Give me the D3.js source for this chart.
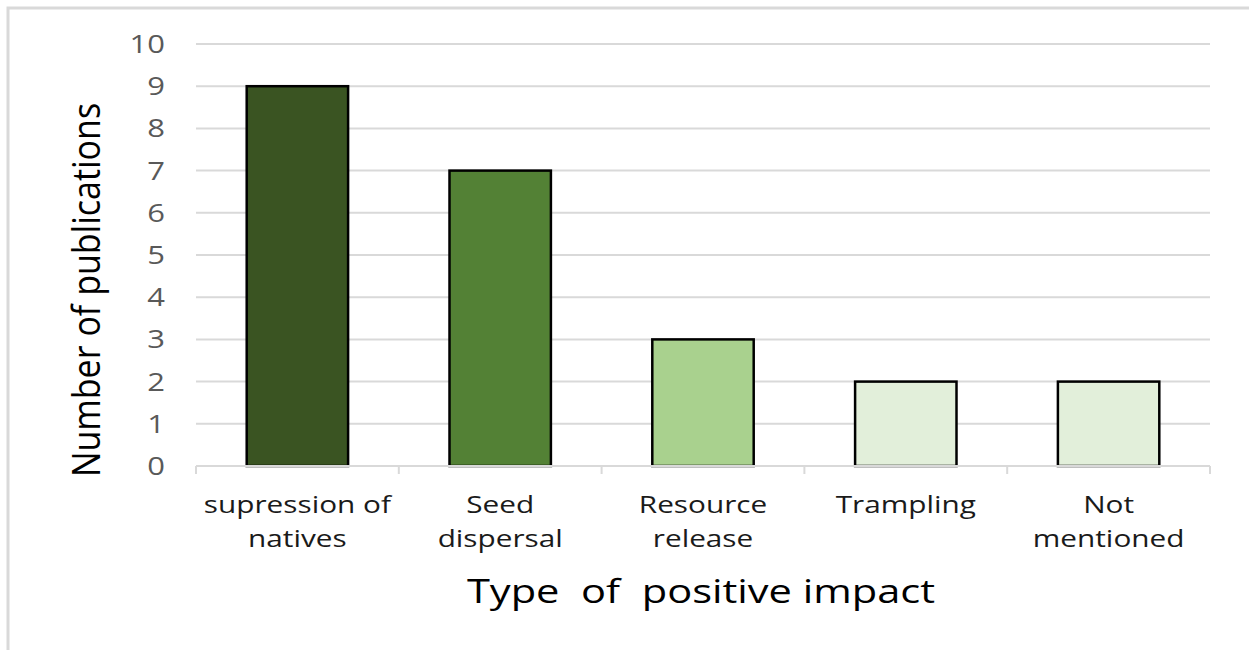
<!DOCTYPE html>
<html>
<head>
<meta charset="utf-8">
<script src="https://cdn.jsdelivr.net/npm/d3@7"></script>
<style>
  html, body { margin: 0; padding: 0; background: #fff; }
  svg { display: block; }
  text { font-family: "Open Sans", "Noto Sans", sans-serif; }
</style>
</head>
<body>
<svg id="chart" width="1249" height="650"></svg>
<script>
// Publications per type of positive impact
const categories = [
  ["supression of", "natives"],
  ["Seed", "dispersal"],
  ["Resource", "release"],
  ["Trampling"],
  ["Not", "mentioned"]
];
const values = [9, 7, 3, 2, 2];
const barColors = ["#3a5422", "#538135", "#a9d18e", "#e2efda", "#e2efda"];
const yTicks = [0, 1, 2, 3, 4, 5, 6, 7, 8, 9, 10];
const xTitle = "Type  of  positive impact";
const yTitle = "Number of publications";

const svg = d3.select("#chart");
const margin = { left: 196, right: 39, top: 44, bottom: 184 };
const W = 1249, H = 650;
const innerW = W - margin.left - margin.right;
const innerH = H - margin.top - margin.bottom;

// lettering in this figure is set wide
const WIDE = 1.24;

const keys = categories.map(c => c.join(" "));
const x = d3.scaleBand().domain(keys).range([0, innerW]).paddingInner(0.5).paddingOuter(0.25);
const y = d3.scaleLinear().domain([0, 10]).range([innerH, 0]);

// outer frame (top and left edges)
svg.append("path")
  .attr("d", "M8,650 V8 H1249")
  .attr("fill", "none")
  .attr("stroke", "#d9d9d9")
  .attr("stroke-width", 3);

const g = svg.append("g").attr("transform", `translate(${margin.left},${margin.top})`);

// horizontal gridlines
g.append("g").selectAll("line").data(yTicks.filter(t => t > 0)).join("line")
  .attr("x1", 0).attr("x2", innerW)
  .attr("y1", d => y(d)).attr("y2", d => y(d))
  .attr("stroke", "#d9d9d9").attr("stroke-width", 2);

// y tick labels
g.append("g").selectAll("text").data(yTicks).join("text")
  .attr("transform", d => `translate(-31,${y(d)}) scale(${WIDE},1)`)
  .attr("dy", "0.36em")
  .attr("text-anchor", "end")
  .attr("fill", "#595959")
  .attr("font-size", 25)
  .text(d => d);

// bars
g.append("g").selectAll("rect").data(values).join("rect")
  .attr("x", (d, i) => x(keys[i]))
  .attr("y", d => y(d))
  .attr("width", x.bandwidth())
  .attr("height", d => innerH - y(d))
  .attr("fill", (d, i) => barColors[i])
  .attr("stroke", "#000")
  .attr("stroke-width", 2.5);

// x axis line with boundary ticks
const step = x.step();
const edges = keys.map(k => x(k) - (step - x.bandwidth()) / 2).concat([innerW]);
g.append("line")
  .attr("x1", 0).attr("x2", innerW)
  .attr("y1", innerH).attr("y2", innerH)
  .attr("stroke", "#d9d9d9").attr("stroke-width", 2);
g.append("g").selectAll("line").data(edges).join("line")
  .attr("x1", d => d).attr("x2", d => d)
  .attr("y1", innerH).attr("y2", innerH + 8)
  .attr("stroke", "#d9d9d9").attr("stroke-width", 2);

// category labels
const cat = g.append("g").selectAll("text").data(categories).join("text")
  .attr("transform", (d, i) => `translate(${x(keys[i]) + x.bandwidth() / 2},${innerH}) scale(${WIDE},1)`)
  .attr("text-anchor", "middle")
  .attr("fill", "#1a1a1a")
  .attr("font-size", 24);
cat.each(function (lines) {
  d3.select(this).selectAll("tspan").data(lines).join("tspan")
    .attr("x", 0)
    .attr("y", (d, j) => 47 + j * 34)
    .text(d => d);
});

// axis titles
svg.append("text")
  .attr("transform", `translate(701,603) scale(1.3,1)`)
  .attr("text-anchor", "middle")
  .attr("font-size", 32)
  .attr("fill", "#000")
  .style("white-space", "pre")
  .text(xTitle);

svg.append("text")
  .attr("transform", "translate(100,290) rotate(-90) scale(1,1.1)")
  .attr("text-anchor", "middle")
  .attr("font-size", 34)
  .attr("fill", "#000")
  .text(yTitle);
</script>
</body>
</html>
